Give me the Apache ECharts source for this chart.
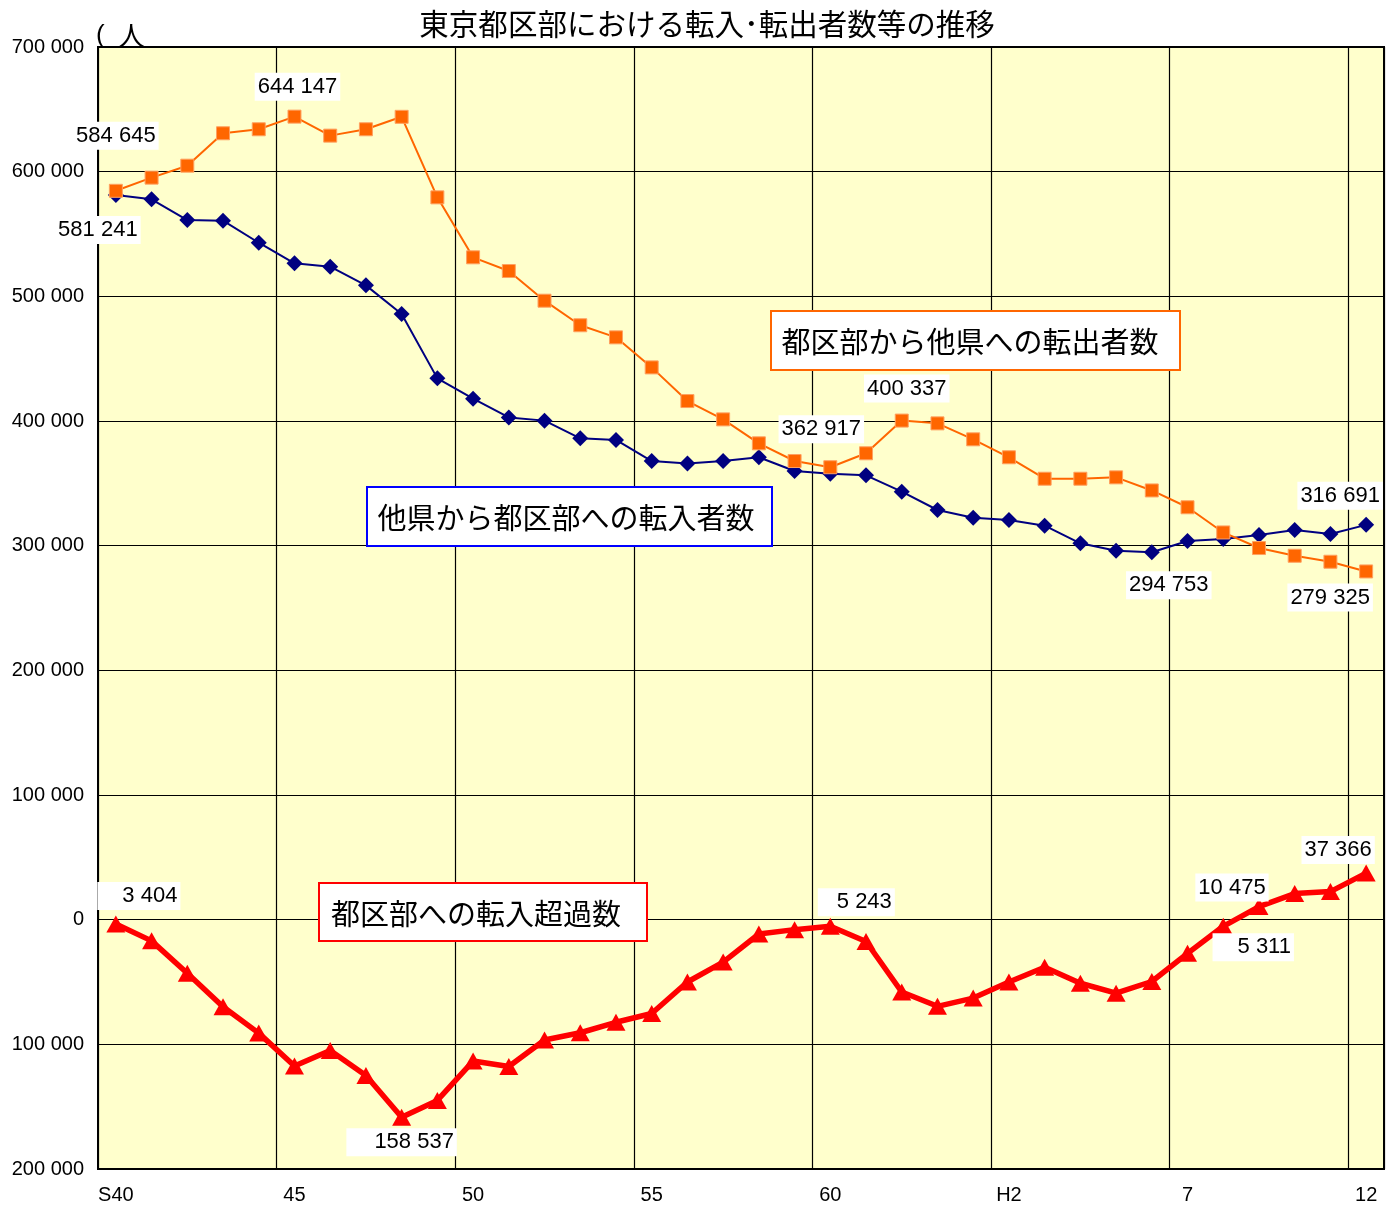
<!DOCTYPE html>
<html><head><meta charset="utf-8">
<script src="https://cdn.jsdelivr.net/npm/echarts@6/dist/echarts.min.js"></script>
<style>html,body{margin:0;padding:0;background:#fff}#c{width:1397px;height:1209px}</style>
</head><body><div id="c"></div>
<script>
// Years: S40 (1965) .. H12 (2000)
const categories = ["S40","41","42","43","44","45","46","47","48","49","50","51","52","53","54","55","56","57","58","59","60","61","62","63","H1","H2","3","4","5","6","7","8","9","10","11","12"];

// 他県から都区部への転入者数
const inMigrants = [581241, 577800, 561200, 560700, 543000, 526500, 523800, 508800, 485800, 434200,
  417900, 402900, 400300, 386100, 384800, 367900, 366000, 367900, 370900, 359900,
  357674, 356400, 343300, 328600, 322400, 320600, 316000, 301900, 296000, 294753,
  303800, 305300, 308600, 312600, 309400, 316691];

// 都区部から他県への転出者数
const outMigrants = [584645, 595200, 604800, 630800, 634000, 644147, 628900, 634000, 644000, 579400,
  531300, 520300, 496500, 476800, 467100, 443000, 416000, 401300, 382100, 367900,
  362917, 374100, 400337, 398100, 385300, 370900, 353700, 353700, 354800, 344300,
  330800, 310600, 298100, 291900, 287100, 279325];

// 都区部への転入超過数
const netMigration = [-3404, -17000, -43000, -69800, -91000, -117400, -105000, -125000, -158537, -145000,
  -113400, -117800, -96500, -90700, -82300, -75300, -50000, -34000, -11500, -8000,
  -5243, -17500, -58000, -69500, -62900, -50000, -38200, -51000, -59000, -49600,
  -27000, -5311, 10475, 20900, 22500, 37366];

const yTicks = { min: -200000, max: 700000, step: 100000 };

// which points carry a data label (index lists)
const inLabelIdx = [0, 29, 35];
const outLabelIdx = [0, 5, 20, 22, 35];
const netLabelIdx = [0, 8, 20, 31, 32, 35];

// label placement (style only)
const inLabelPos = {0: {o: [-18, 35]}, 29: {o: [17, 33]}, 35: {o: [-26, -29]}};
const outLabelPos = {0: {o: [0, -55]}, 5: {o: [3, -30]}, 20: {o: [-9, -38]}, 22: {o: [5, -32]}, 35: {o: [-36, 26]}};
const netLabelPos = {0: {o: [23, -28], p: [3, 3, 3, 25]}, 8: {o: [0, 25], p: [3, 3, 3, 28]},
  20: {o: [26, -24], p: [3, 3, 3, 19]}, 31: {o: [30, 21], p: [3, 3, 3, 25]},
  32: {o: [-27, -19], p: [3, 3, 3, 3]}, 35: {o: [-28, -23], p: [3, 3, 3, 3]}};

function fmt(v) {
  return Math.abs(v).toString().replace(/\B(?=(\d{3})+(?!\d))/g, ' ');
}

function buildData(values, idxList, pos) {
  return values.map((v, i) => {
    if (idxList.indexOf(i) < 0) return v;
    const p = pos[i];
    return { value: v, label: { show: true, offset: p.o, padding: p.p || [3, 3, 3, 3] } };
  });
}

const labelBase = {
  show: false, position: 'inside', color: '#000', fontSize: 22,
  fontFamily: '"Liberation Sans", Arial, sans-serif',
  backgroundColor: '#fff', formatter: (p) => fmt(p.value)
};

const chart = echarts.init(document.getElementById('c'), null, { renderer: 'canvas' });

const jp = '"Noto Sans CJK JP", sans-serif';

chart.setOption({
  animation: false,
  backgroundColor: '#fff',
  grid: {
    left: 98, top: 47, width: 1286, height: 1122,
    show: true, backgroundColor: '#FFFFCC', borderColor: '#000', borderWidth: 2,
    containLabel: false, outerBoundsMode: 'none'
  },
  xAxis: [{
    type: 'category', data: categories, boundaryGap: true, position: 'bottom',
    axisLine: { show: false, onZero: false },
    axisTick: { show: false },
    axisLabel: { interval: 4, margin: 16, color: '#000', fontSize: 20,
      fontFamily: '"Liberation Sans", Arial, sans-serif' },
    splitLine: { show: true, interval: 4, lineStyle: { color: '#000', width: 1.2 } }
  }, {
    type: 'category', data: categories, boundaryGap: true, position: 'bottom',
    axisLine: { show: true, onZero: true, lineStyle: { color: '#000', width: 1.2 } },
    axisTick: { show: true, inside: true, interval: 4, length: 5, lineStyle: { color: '#000' } },
    axisLabel: { show: false },
    splitLine: { show: false }
  }],
  yAxis: {
    type: 'value', min: yTicks.min, max: yTicks.max, interval: yTicks.step,
    axisLine: { show: false },
    axisTick: { show: true, inside: true, length: 5, lineStyle: { color: '#000' } },
    axisLabel: { margin: 14, color: '#000', fontSize: 20,
      fontFamily: '"Liberation Sans", Arial, sans-serif', formatter: (v) => fmt(v) },
    splitLine: { show: true, lineStyle: { color: '#000', width: 1.2 } }
  },
  series: [{
    name: '他県から都区部への転入者数', type: 'line', xAxisIndex: 0,
    data: buildData(inMigrants, inLabelIdx, inLabelPos),
    symbol: 'path://M0,-1L1,0L0,1L-1,0Z', symbolSize: 16, showAllSymbol: true,
    lineStyle: { color: '#000080', width: 2 },
    itemStyle: { color: '#000080' },
    label: labelBase, z: 3
  }, {
    name: '都区部から他県への転出者数', type: 'line', xAxisIndex: 0,
    data: buildData(outMigrants, outLabelIdx, outLabelPos),
    symbol: 'rect', symbolSize: 13, showAllSymbol: true,
    lineStyle: { color: '#FF6600', width: 2 },
    itemStyle: { color: '#FF6600', borderColor: '#FFA060', borderWidth: 1 },
    label: labelBase, z: 4
  }, {
    name: '都区部への転入超過数', type: 'line', xAxisIndex: 0,
    data: buildData(netMigration, netLabelIdx, netLabelPos),
    symbol: 'triangle', symbolSize: [19, 17], showAllSymbol: true,
    lineStyle: { color: '#FF0000', width: 5.5 },
    itemStyle: { color: '#FF0000' },
    label: labelBase, z: 5
  }],
  graphic: [
    { type: 'text', x: 707, y: 24, z: 10,
      style: { text: '東京都区部における転入･転出者数等の推移', fill: '#000', font: '29.5px ' + jp,
        textAlign: 'center', textVerticalAlign: 'middle', verticalAlign: 'middle' } },
    { type: 'text', x: 96, y: 36, z: -5,
      style: { text: '(', fill: '#000', font: '26px "Liberation Sans", Arial, sans-serif',
        textAlign: 'left', textVerticalAlign: 'middle', verticalAlign: 'middle' } },
    { type: 'text', x: 118, y: 36, z: -5,
      style: { text: '人', fill: '#000', font: '27px ' + jp,
        textAlign: 'left', textVerticalAlign: 'middle', verticalAlign: 'middle' } },
    { type: 'rect', z: 100, shape: { x: 771, y: 311, width: 409, height: 59 },
      style: { fill: '#fff', stroke: '#FF6600', lineWidth: 2 } },
    { type: 'text', z: 101, x: 970, y: 342,
      style: { text: '都区部から他県への転出者数', fill: '#000', font: '29px ' + jp,
        textAlign: 'center', textVerticalAlign: 'middle', verticalAlign: 'middle' } },
    { type: 'rect', z: 100, shape: { x: 367, y: 487, width: 405, height: 59 },
      style: { fill: '#fff', stroke: '#0000FF', lineWidth: 2 } },
    { type: 'text', z: 101, x: 566, y: 518,
      style: { text: '他県から都区部への転入者数', fill: '#000', font: '29px ' + jp,
        textAlign: 'center', textVerticalAlign: 'middle', verticalAlign: 'middle' } },
    { type: 'rect', z: 100, shape: { x: 319, y: 883, width: 328, height: 58 },
      style: { fill: '#fff', stroke: '#FF0000', lineWidth: 2 } },
    { type: 'text', z: 101, x: 476, y: 914,
      style: { text: '都区部への転入超過数', fill: '#000', font: '29px ' + jp,
        textAlign: 'center', textVerticalAlign: 'middle', verticalAlign: 'middle' } }
  ]
});
</script>
</body></html>
